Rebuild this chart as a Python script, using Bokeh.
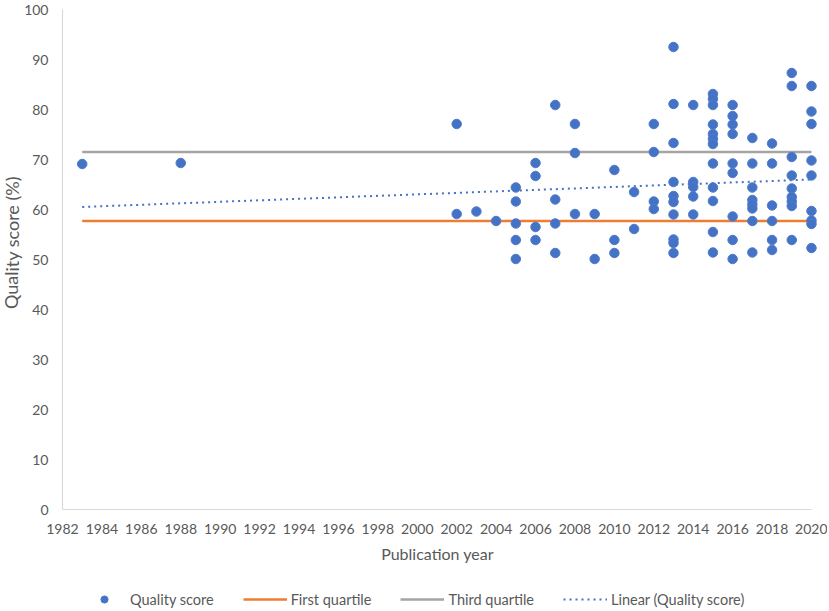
from bokeh.plotting import figure
from bokeh.models import FixedTicker, Label, Legend, LegendItem
from bokeh.embed import file_html
from bokeh.resources import INLINE

# ---- data ----
years = [1983, 1988,
         2002, 2002, 2003, 2004,
         2005, 2005, 2005, 2005, 2005,
         2006, 2006, 2006, 2006,
         2007, 2007, 2007, 2007,
         2008, 2008, 2008,
         2009, 2009,
         2010, 2010, 2010,
         2011, 2011,
         2012, 2012, 2012, 2012,
         2013, 2013, 2013, 2013, 2013, 2013, 2013, 2013, 2013, 2013,
         2014, 2014, 2014, 2014, 2014,
         2015, 2015, 2015, 2015, 2015, 2015, 2015, 2015, 2015, 2015, 2015, 2015,
         2016, 2016, 2016, 2016, 2016, 2016, 2016, 2016, 2016,
         2017, 2017, 2017, 2017, 2017, 2017, 2017, 2017,
         2018, 2018, 2018, 2018, 2018, 2018,
         2019, 2019, 2019, 2019, 2019, 2019, 2019, 2019, 2019,
         2020, 2020, 2020, 2020, 2020, 2020, 2020, 2020, 2020]
scores = [69.1, 69.3,
          77.1, 59.1, 59.6, 57.7,
          64.4, 61.6, 57.2, 53.9, 50.1,
          69.3, 66.7, 56.5, 53.9,
          80.9, 62.0, 57.2, 51.3,
          77.1, 71.3, 59.1,
          59.1, 50.1,
          67.9, 53.9, 51.3,
          63.5, 56.1,
          77.1, 71.5, 61.6, 60.1,
          92.5, 81.1, 73.3, 65.5, 62.7, 61.5, 59.0, 54.0, 53.3, 51.3,
          80.9, 65.5, 64.5, 62.6, 59.0,
          83.1, 82.1, 80.9, 77.0, 75.1, 74.1, 73.1, 69.2, 64.4, 61.7, 55.5, 51.4,
          80.9, 78.7, 77.0, 75.1, 69.2, 67.3, 58.6, 53.9, 50.1,
          74.3, 69.2, 64.4, 61.9, 61.0, 60.2, 57.7, 51.4,
          73.2, 69.2, 60.8, 57.7, 53.9, 51.9,
          87.3, 84.7, 70.5, 66.8, 64.2, 62.5, 61.6, 60.7, 53.9,
          84.7, 79.6, 77.1, 69.8, 66.8, 59.7, 57.8, 57.1, 52.3]

line_years = [1983, 2020]
first_quartile = [57.7, 57.7]
third_quartile = [71.5, 71.5]
trend_scores = [60.5, 66.0]

x_ticks = [1982, 1984, 1986, 1988, 1990, 1992, 1994, 1996, 1998, 2000,
           2002, 2004, 2006, 2008, 2010, 2012, 2014, 2016, 2018, 2020]
y_ticks = [0, 10, 20, 30, 40, 50, 60, 70, 80, 90, 100]

FONT = "Lato"
GREY_TXT = "#595959"

# ---- layout (pixels inside the figure) ----
W, H = 827, 609
X_LEFT_PX = 62.0      # where 1982 sits
PX_PER_YEAR = 19.71
Y_TOP_PX = 9.0        # where 100 sits
Y_ZERO_PX = 509.0     # where 0 sits
ppu = (Y_ZERO_PX - Y_TOP_PX) / 100.0

x_start = x_ticks[0] - X_LEFT_PX / PX_PER_YEAR
x_end = x_ticks[0] + (W - X_LEFT_PX) / PX_PER_YEAR
y_end = 100 + Y_TOP_PX / ppu
y_start = -(H - Y_ZERO_PX) / ppu

p = figure(width=W, height=H, x_range=(x_start, x_end), y_range=(y_start, y_end),
           output_backend="svg", toolbar_location=None,
           min_border_left=0, min_border_right=0, min_border_top=0,
           min_border_bottom=0)
p.outline_line_color = None
p.xgrid.grid_line_color = None
p.ygrid.grid_line_color = None
p.background_fill_color = "white"
p.border_fill_color = "white"

for ax in (p.xaxis[0], p.yaxis[0]):
    ax.axis_line_color = "#D9D9D9"
    ax.axis_line_width = 1.2
    ax.major_tick_line_color = None
    ax.minor_tick_line_color = None
    ax.major_tick_out = 0
    ax.major_tick_in = 0
    ax.minor_tick_out = 0
    ax.minor_tick_in = 0
    ax.major_label_text_color = GREY_TXT
    ax.major_label_text_font = FONT
    ax.major_label_text_font_size = "14px"

p.xaxis.ticker = FixedTicker(ticks=x_ticks)
p.yaxis.ticker = FixedTicker(ticks=y_ticks)
p.xaxis.bounds = (x_ticks[0], x_ticks[-1])
p.yaxis.bounds = (y_ticks[0], y_ticks[-1])
p.xaxis.fixed_location = 0
p.yaxis.fixed_location = x_ticks[0]
p.xaxis.major_label_standoff = 14
p.yaxis.major_label_standoff = 14

r_q1 = p.line(line_years, first_quartile, line_color="#ED7D31", line_width=2.5)
r_q3 = p.line(line_years, third_quartile, line_color="#A5A5A5", line_width=2.5)
r_tr = p.line(line_years, trend_scores, line_color="#4472C4", line_width=2,
              line_dash="2 4")
r_sc = p.scatter(years, scores, size=9.5, fill_color="#4472C4",
                 line_color="#4F7BCB", line_width=1)

p.add_layout(Label(x=437, y=H - 553, x_units="screen", y_units="screen",
                   text="Publication year", text_align="center",
                   text_baseline="middle", text_font=FONT,
                   text_font_size="16px", text_color=GREY_TXT))
p.add_layout(Label(x=11, y=H - 242, x_units="screen", y_units="screen",
                   text="Quality score (%)", text_align="center",
                   text_baseline="middle", angle=1.5707963, text_font=FONT,
                   text_font_size="18px", text_color=GREY_TXT))

legend = Legend(items=[LegendItem(label="Quality score", renderers=[r_sc]),
                       LegendItem(label="First quartile", renderers=[r_q1]),
                       LegendItem(label="Third quartile", renderers=[r_q3]),
                       LegendItem(label="Linear (Quality score)", renderers=[r_tr])],
                orientation="horizontal", location=(82, 1),
                glyph_width=44, glyph_height=18, label_standoff=4, spacing=29,
                padding=0, margin=0, border_line_color=None,
                background_fill_alpha=0, label_text_font=FONT,
                label_text_font_size="14.5px", label_text_color=GREY_TXT)
p.add_layout(legend)

open("out.html", "w").write(file_html(p, INLINE))
